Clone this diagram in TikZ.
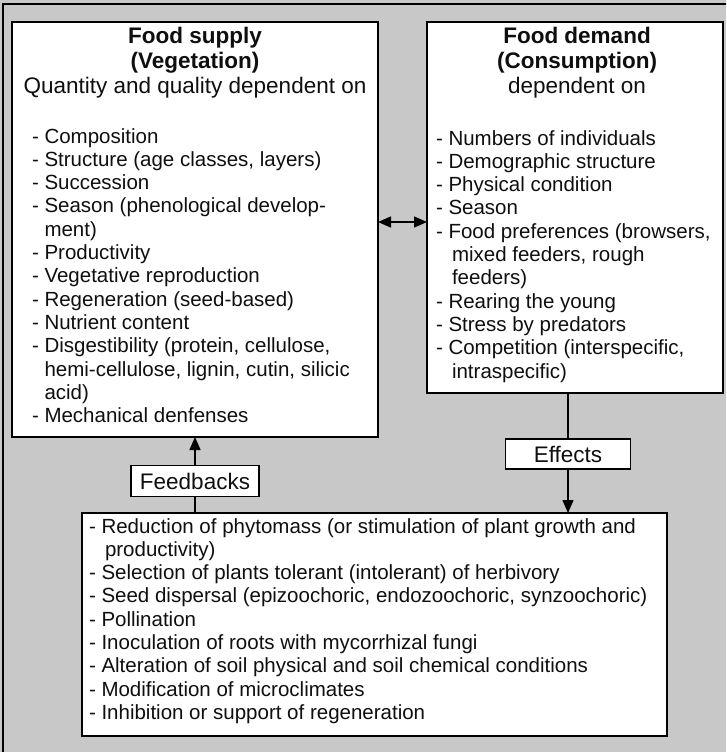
\documentclass[tikz,border=0pt]{standalone}
\usepackage{fontspec}
\setmainfont{Liberation Sans}
\usetikzlibrary{arrows.meta}
\definecolor{panel}{RGB}{200,200,200}
\definecolor{ink}{RGB}{15,15,15}
% indent of a wrapped list line (width of the leading "- ")
\newcommand\contline{\phantom{- }}

\tikzset{
  every node/.style={inner sep=0pt, outer sep=0pt, text=ink},
  boxframe/.style={draw=black, line width=2pt, fill=white, anchor=north west},
  % multi-line texts are placed by the baseline of their last line
  headtext/.style={align=center, font=\fontsize{22.5}{25}\selectfont, anchor=base},
  listtext/.style={align=left, font=\fontsize{20.5}{23.3}\selectfont, anchor=base west},
  tagbox/.style={draw=black, line width=1.5pt, fill=white,
                 font=\fontsize{22.5}{25}\selectfont},
  link/.style={draw=black, line width=1.5pt},
  headtip/.style={-{Triangle[length=13pt,width=11pt]}},
  bothtips/.style={{Triangle[length=13pt,width=11pt]}-{Triangle[length=13pt,width=11pt]}},
}

\begin{document}
\begin{tikzpicture}[x=1pt, y=-1pt]
\useasboundingbox (0,0) rectangle (726,752);
\clip (0,0) rectangle (726,752);

% grey panel with its frame
\fill[panel] (0,0) rectangle (726,752);
\draw[line width=2.5pt, black] (3,760) -- (3,4) -- (740,4);

% the three main boxes
\node[boxframe, minimum width=366pt, minimum height=415pt] (supply) at (12,22) {};
\node[boxframe, minimum width=296pt, minimum height=371pt] (demand) at (427,22) {};
\node[boxframe, minimum width=585pt, minimum height=223pt] (plant) at (82,513) {};

% headings
\node[headtext] (supplyhead) at (195,93)
  {\textbf{Food supply}\\\textbf{(Vegetation)}\\Quantity and quality dependent on};
\node[headtext] (demandhead) at (577,93)
  {\textbf{Food demand}\\\textbf{(Consumption)}\\dependent on};

% lists
\node[listtext] (supplylist) at (32,422.6) {%
- Composition\\
- Structure (age classes, layers)\\
- Succession\\
- Season (phenological develop-\\
\contline ment)\\
- Productivity\\
- Vegetative reproduction\\
- Regeneration (seed-based)\\
- Nutrient content\\
- Disgestibility (protein, cellulose,\\
\contline hemi-cellulose, lignin, cutin, silicic\\
\contline acid)\\
- Mechanical denfenses};

\node[listtext] (demandlist) at (436,378) {%
- Numbers of individuals\\
- Demographic structure\\
- Physical condition\\
- Season\\
- Food preferences (browsers,\\
\contline\hspace{3.5pt}mixed feeders, rough\\
\contline\hspace{3.5pt}feeders)\\
- Rearing the young\\
- Stress by predators\\
- Competition (interspecific,\\
\contline\hspace{3.5pt}intraspecific)};

\node[listtext] (plantlist) at (89,719.4) {%
- Reduction of phytomass (or stimulation of plant growth and\\
\contline\hspace{3.5pt}productivity)\\
- Selection of plants tolerant (intolerant) of herbivory\\
- Seed dispersal (epizoochoric, endozoochoric, synzoochoric)\\
- Pollination\\
- Inoculation of roots with mycorrhizal fungi\\
- Alteration of soil physical and soil chemical conditions\\
- Modification of microclimates\\
- Inhibition or support of regeneration};

% labels on the connectors
\node[tagbox, minimum width=125pt, minimum height=30pt] (effects) at (568,454) {Effects};
\node[tagbox, minimum width=128pt, minimum height=31pt] (feedbacks) at (195,481) {Feedbacks};

% connectors
\coordinate (mutual) at (400,222);
\draw[link, bothtips] (supply.east |- mutual) -- (demand.west |- mutual);
\draw[link] (demand.south -| effects) -- (effects);
\draw[link, headtip] (effects) -- (effects |- plant.north);
\draw[link] (plant.north -| feedbacks) -- (feedbacks);
\draw[link, headtip] (feedbacks) -- (feedbacks |- supply.south);
\end{tikzpicture}
\end{document}
